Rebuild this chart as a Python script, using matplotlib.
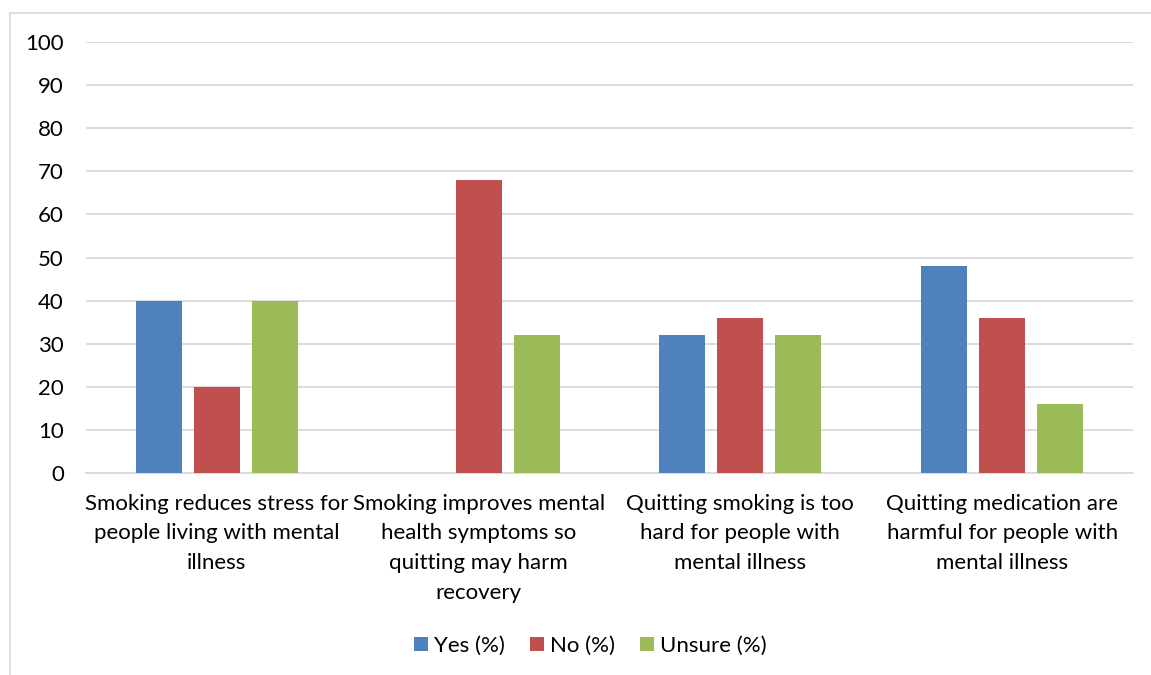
import numpy as np
import matplotlib.pyplot as plt
from matplotlib.lines import Line2D

plt.rcParams['font.family'] = ['Lato', 'DejaVu Sans']

# survey data
categories = [
    'Smoking reduces stress for\npeople living with mental\nillness',
    'Smoking improves mental\nhealth symptoms so\nquitting may harm\nrecovery',
    'Quitting smoking is too\nhard for people with\nmental illness',
    'Quitting medication are\nharmful for people with\nmental illness',
]
series_names = ['Yes (%)', 'No (%)', 'Unsure (%)']
yes_pct = [40, 0, 32, 48]
no_pct = [20, 68, 36, 36]
unsure_pct = [40, 32, 32, 16]
yticks = list(range(0, 101, 10))

colors = ['#4F81BD', '#C0504D', '#9BBB59']

W, H = 1151, 675
fig = plt.figure(figsize=(W / 100, H / 100), dpi=100)
ax = fig.add_axes([86 / W, 1 - 473 / H, (1133 - 86) / W, (473 - 42) / H])

x = np.arange(len(categories))
bw = 0.176
step = 0.2216
for i, (vals, name) in enumerate(zip([yes_pct, no_pct, unsure_pct], series_names)):
    ax.bar(x + (i - 1) * step, vals, width=bw, color=colors[i], label=name, zorder=3)

ax.set_xlim(-0.5, len(categories) - 0.5)
ax.set_ylim(0, 100)
ax.set_yticks(yticks)
ax.set_yticklabels([str(t) for t in yticks], fontsize=16)
ax.yaxis.grid(True, color='#D9D9D9', linewidth=1.3, zorder=0)
ax.set_xticks(x)
ax.set_xticklabels(categories, fontsize=16, linespacing=1.6, va='top')
ax.tick_params(axis='both', length=0, colors='black')
ax.tick_params(axis='x', pad=15)
ax.tick_params(axis='y', pad=16)
for s in ['top', 'right', 'left']:
    ax.spines[s].set_visible(False)
ax.spines['bottom'].set_color('#D9D9D9')
ax.spines['bottom'].set_linewidth(1.3)

fig.legend(loc='center', bbox_to_anchor=(590 / W, 1 - 646 / H), ncol=3, frameon=False,
           fontsize=16, handlelength=0.63, handleheight=0.63, handletextpad=0.27,
           columnspacing=1.13)

# chart area border (left and top edges)
fig.add_artist(Line2D([10 / W, 10 / W], [0, 1 - 13 / H], transform=fig.transFigure,
                      color='#D9D9D9', linewidth=1.2))
fig.add_artist(Line2D([10 / W, 1], [1 - 13 / H, 1 - 13 / H], transform=fig.transFigure,
                      color='#D9D9D9', linewidth=1.2))

fig.savefig('out.png', dpi=100)
